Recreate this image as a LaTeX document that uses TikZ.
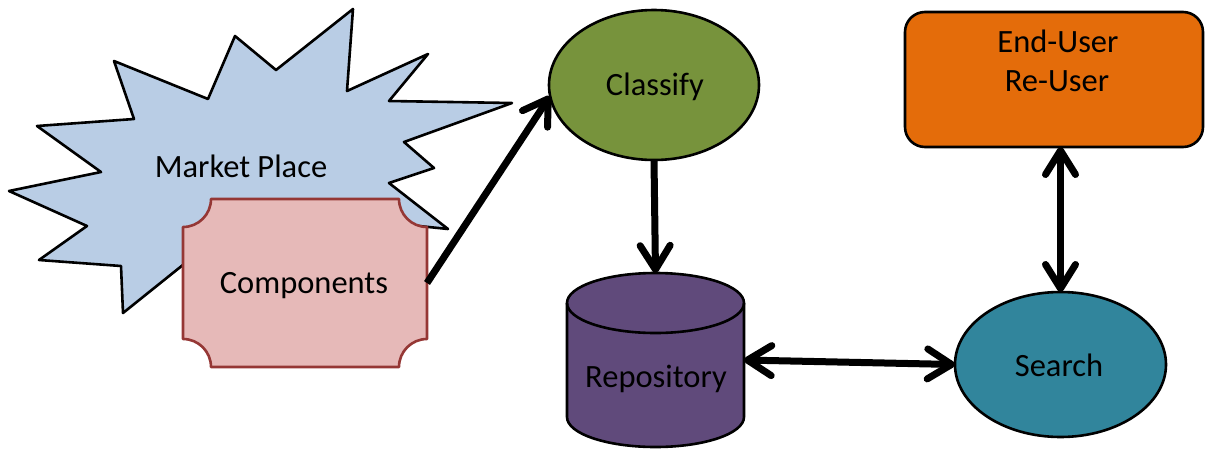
\documentclass[tikz,border=0pt]{standalone}
\usepackage{fontspec}
\setmainfont{Carlito}
\usetikzlibrary{arrows.meta,shapes.geometric}
\definecolor{starblue}{HTML}{B9CDE5}
\definecolor{comppink}{HTML}{E6B9B8}
\definecolor{compred}{HTML}{953735}
\definecolor{clsgreen}{HTML}{77933C}
\definecolor{repopurple}{HTML}{604A7B}
\definecolor{userorange}{HTML}{E46C0A}
\definecolor{searchteal}{HTML}{31859C}
\begin{document}
\begin{tikzpicture}[x=1pt,y=-1pt,
  lbl/.style={font=\fontsize{32.5}{39}\selectfont, text=black, anchor=base, inner sep=0pt},
  outline/.style={draw=black, line width=2.6pt, line join=round},
  barb/.tip={Straight Barb[length=24pt,width=30pt,round]},
  flow/.style={line width=7pt, -barb},
  both/.style={line width=7pt, barb-barb},
  hull/.style={inner sep=0pt, outer sep=0pt},
]
\useasboundingbox (0,0) rectangle (1205,448);

% market place burst
\filldraw[fill=starblue, outline]
  (353,9) -- (347,91) -- (428,54) -- (389,101) -- (512,103) -- (404,142)
  -- (434,168) -- (389,183) -- (448,229) -- (380,222) -- (219,236)
  -- (123,313) -- (121,266) -- (39,260) -- (87,226) -- (9,191)
  -- (101,172) -- (37,126) -- (134,119) -- (114,61) -- (208,99)
  -- (235,36) -- (276,70) -- cycle;
\node[lbl] (market) at (241,177) {Market Place};

% components plaque with concave corners
\node[hull, minimum width=244pt, minimum height=168pt] (comp) at (305,283) {};
\filldraw[fill=comppink, draw=compred, line width=2.6pt, line join=round]
  (211,199) -- (399,199) arc[start angle=180, end angle=90, radius=28]
  -- (427,339) arc[start angle=270, end angle=180, radius=28]
  -- (211,367) arc[start angle=0, end angle=-90, radius=28]
  -- (183,227) arc[start angle=90, end angle=0, radius=28] -- cycle;
\node[lbl] (comptext) at (304,293) {Components};

% classify
\node[ellipse, outline, fill=clsgreen, hull, minimum width=210pt, minimum height=150pt] (classify) at (654,85) {};
\node[lbl] (clstext) at (655,95) {Classify};

% repository drum
\node[hull, minimum width=177pt, minimum height=174pt] (repo) at (655.5,360) {};
\filldraw[fill=repopurple, outline]
  (567,303) -- (567,417) arc[start angle=180, end angle=0, x radius=88.5, y radius=30]
  -- (744,303) arc[start angle=0, end angle=-180, x radius=88.5, y radius=30] -- cycle;
\draw[outline] (567,303) arc[start angle=180, end angle=0, x radius=88.5, y radius=30];
\node[lbl] (repotext) at (656,387) {Repository};

% end user
\node[rectangle, rounded corners=20pt, outline, fill=userorange, hull, minimum width=298pt, minimum height=135pt] (user) at (1054,79.5) {};
\node[lbl] (usertext1) at (1058,52) {End-User};
\node[lbl] (usertext2) at (1057,91) {Re-User};

% search
\node[ellipse, outline, fill=searchteal, hull, minimum width=211pt, minimum height=145pt] (search) at (1060.5,364.5) {};
\node[lbl] (searchtext) at (1059,376) {Search};

% connectors
\draw[flow] (comp.east) -- (classify.186);
\draw[flow] (classify.south) -- (repo.north);
\draw[both] (repo.east) -- (search.west);
\draw[both] (search.north |- user.south) -- (search.north);
\end{tikzpicture}
\end{document}
